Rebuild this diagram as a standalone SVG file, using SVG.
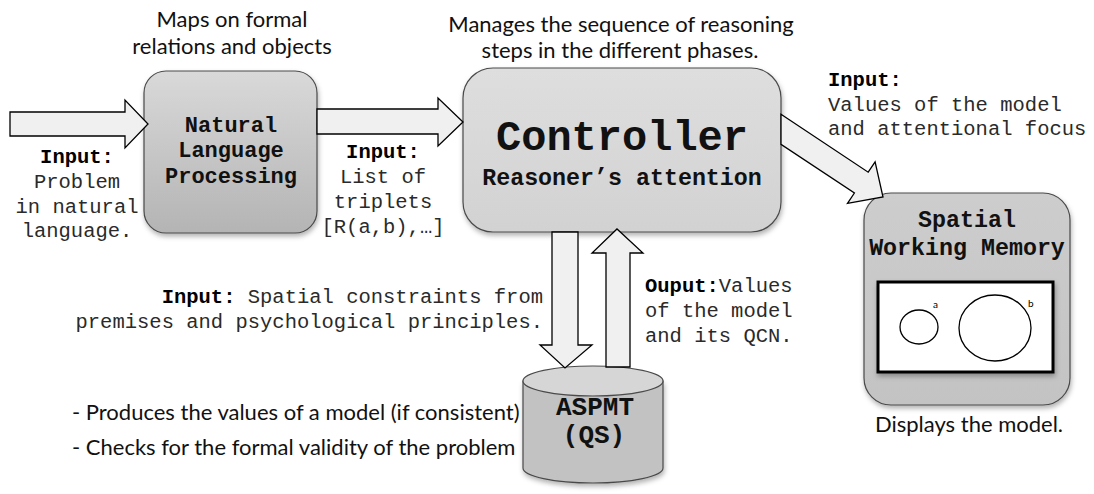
<svg xmlns="http://www.w3.org/2000/svg" width="1094" height="494" viewBox="0 0 1094 494">
<style>
.mono{font-family:"Liberation Mono","Courier New",monospace;font-size:20.5px;fill:#2a2a2a}
.b{font-weight:bold;fill:#000}
.sans{font-family:Lato,"Open Sans",sans-serif;font-size:22px;fill:#111}
.arrow{fill:#f0f0f0;stroke:#000;stroke-width:1.3;stroke-linejoin:miter}
.box{stroke:#4a4a4a;stroke-width:1.2}
.title{font-family:"Liberation Mono","Courier New",monospace;font-weight:bold;fill:#111;text-anchor:middle}
</style>
<defs>
<linearGradient id="gNlp" x1="0" y1="0" x2="0" y2="1"><stop offset="0" stop-color="#d9d9d9"/><stop offset="1" stop-color="#b4b4b4"/></linearGradient>
<linearGradient id="gCtl" x1="0" y1="0" x2="0" y2="1"><stop offset="0" stop-color="#dedede"/><stop offset="1" stop-color="#d2d2d2"/></linearGradient>
<linearGradient id="gSwm" x1="0" y1="0" x2="0" y2="1"><stop offset="0" stop-color="#cdcdcd"/><stop offset="1" stop-color="#c3c3c3"/></linearGradient>
<filter id="sh" x="-10%" y="-10%" width="125%" height="130%"><feDropShadow dx="1" dy="3" stdDeviation="2.5" flood-color="#000" flood-opacity="0.3"/></filter>
</defs>

<g id="nlp">
<rect class="box" x="144" y="71" width="173" height="162" rx="22" fill="url(#gNlp)" filter="url(#sh)"/>
<text class="title" font-size="22" x="231" y="132">Natural</text>
<text class="title" font-size="22" x="231" y="157">Language</text>
<text class="title" font-size="22" x="231" y="183">Processing</text>
</g>

<g id="controller">
<rect class="box" x="463" y="68" width="318" height="164" rx="30" fill="url(#gCtl)" filter="url(#sh)"/>
<text class="title" font-size="42" x="622" y="150">Controller</text>
<text class="title" font-size="23.3" x="622" y="185">Reasoner’s attention</text>
</g>

<g id="swm">
<rect class="box" x="864" y="193" width="206" height="212" rx="27" fill="url(#gSwm)" filter="url(#sh)"/>
<text class="title" font-size="23.3" x="967" y="227">Spatial</text>
<text class="title" font-size="23.3" x="967" y="255">Working Memory</text>
<rect x="878" y="282" width="175" height="90" fill="#fff" stroke="#000" stroke-width="3" filter="url(#sh)"/>
<ellipse cx="919" cy="327" rx="19" ry="17" fill="none" stroke="#000" stroke-width="1.3"/>
<ellipse cx="995" cy="328" rx="36" ry="33" fill="none" stroke="#000" stroke-width="1.3"/>
<text x="933" y="308" font-family="Lato,sans-serif" font-size="10" fill="#000">a</text>
<text x="1028" y="307" font-family="Lato,sans-serif" font-size="10" fill="#000">b</text>
</g>

<g id="aspmt">
<path class="box" d="M523,381 L523,468 A70,15 0 0 0 663,468 L663,381 Z" fill="#c2c2c2" filter="url(#sh)"/>
<ellipse class="box" cx="593" cy="381" rx="70" ry="15" fill="#d6d6d6"/>
<text class="title" font-size="26" x="595" y="415">ASPMT</text>
<text class="title" font-size="26" x="594" y="443">(QS)</text>
</g>

<g id="connectors">
<polygon class="arrow" points="10,112 125,112 125,100 148,124 125,148 125,136 10,136"/>
<polygon class="arrow" points="317,109 438,109 438,98 463,122 438,146 438,134 317,134"/>
<polygon class="arrow" points="781,114.3 868.2,172.2 875.1,161.8 883,197 847.5,203.4 854.4,193 781,144.3"/>
<polygon class="arrow" points="552,232 578,232 578,345 592,345 565,368 540,345 552,345"/>
<polygon class="arrow" points="606,367 606,253 592,253 617,229 643,253 630,253 630,367"/>
</g>

<g id="labels">
<text class="sans" x="232" y="27" text-anchor="middle">Maps on formal</text>
<text class="sans" x="232" y="54" text-anchor="middle">relations and objects</text>
<text class="sans" x="621" y="32" text-anchor="middle">Manages the sequence of reasoning</text>
<text class="sans" x="620" y="58" text-anchor="middle">steps in the different phases.</text>

<text class="mono b" x="77" y="163" text-anchor="middle">Input:</text>
<text class="mono" x="77" y="188" text-anchor="middle">Problem</text>
<text class="mono" x="77" y="213" text-anchor="middle">in natural</text>
<text class="mono" x="77" y="237" text-anchor="middle">language.</text>

<text class="mono b" x="383" y="158" text-anchor="middle">Input:</text>
<text class="mono" x="383" y="183" text-anchor="middle">List of</text>
<text class="mono" x="383" y="208" text-anchor="middle">triplets</text>
<text class="mono" x="383" y="233" text-anchor="middle">[R(a,b),…]</text>

<text class="mono b" x="828" y="86">Input:</text>
<text class="mono" x="828" y="111">Values of the model</text>
<text class="mono" x="828" y="135">and attentional focus</text>

<text class="mono" x="543" y="303" text-anchor="end"><tspan class="b">Input:</tspan> Spatial constraints from</text>
<text class="mono" x="543" y="328" text-anchor="end">premises and psychological principles.</text>

<text class="mono" x="645" y="292"><tspan class="b">Ouput:</tspan>Values</text>
<text class="mono" x="645" y="317">of the model</text>
<text class="mono" x="645" y="342">and its QCN.</text>

<text class="sans" x="72" y="420">- Produces the values of a model (if consistent)</text>
<text class="sans" x="72" y="455">- Checks for the formal validity of the problem</text>
<text class="sans" x="969" y="432" text-anchor="middle">Displays the model.</text>
</g>
</svg>
